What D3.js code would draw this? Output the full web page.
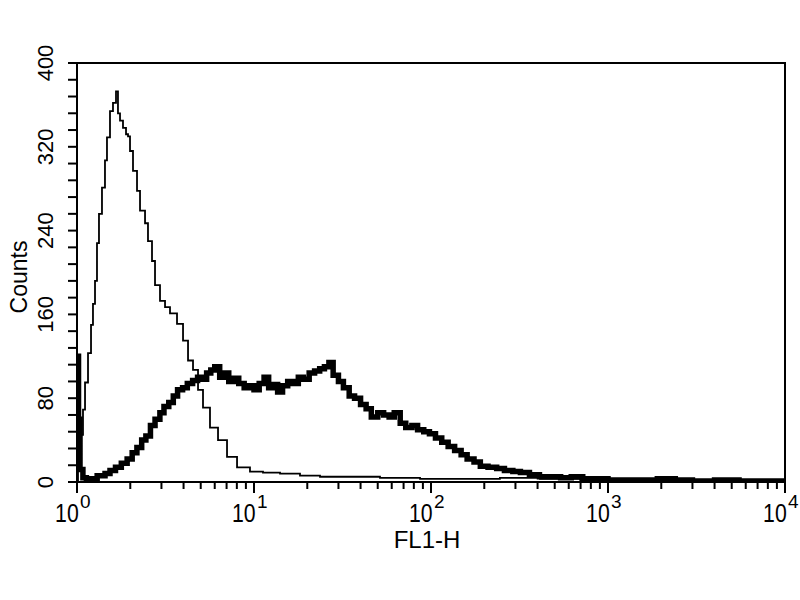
<!DOCTYPE html>
<html lang="en">
<head>
    <meta charset="UTF-8">
    <title>FL1-H histogram</title>
    <script src="https://d3js.org/d3.v7.min.js"></script>
    <style>
        body { margin: 0; background: #fff; }
        text { font-family: "Liberation Sans", Arial, sans-serif; fill: #000; }
    </style>
</head>
<body>
    <div id="chart"></div>

    <script>
        // control (thin line): FL1-H channel value and counts
        const controlFl1 = [1.0, 1.013, 1.04, 1.081, 1.11, 1.154, 1.2, 1.231, 1.264, 1.297, 1.331, 1.384, 1.439, 1.477,
            1.536, 1.597, 1.661, 1.704, 1.75, 1.819, 1.892, 1.942, 1.993, 2.072, 2.183, 2.27, 2.423, 2.518, 2.653,
            2.759, 2.944, 3.143, 3.353, 3.673, 3.972, 4.239, 4.523, 4.828, 5.151, 5.641, 6.262, 7.04, 8.02, 9.49,
            11.24, 14.03, 18.19, 23.6, 34.9, 51.5, 86.7, 146, 245, 413, 695, 1169, 3310, 10000];
        const controlCounts = [0, 20, 45, 69, 95, 123, 150, 170, 192, 228, 256, 281, 307, 329,
            354, 362, 373, 352, 345, 338, 332, 330, 316, 297, 278, 259, 247, 230, 211,
            188, 173, 167, 161, 151, 135, 116, 107, 88, 71, 52, 40, 24, 14, 10,
            9, 8, 6, 5, 5, 4, 3, 3, 4, 3, 2, 1, 0, 0];

        // stained sample (thick line)
        const sampleFl1 = [1.0, 1.02, 1.04, 1.08, 1.13, 1.2, 1.3, 1.384, 1.44, 1.536, 1.65, 1.78, 1.92, 2.05, 2.18,
            2.32, 2.45, 2.6, 2.76, 2.94, 3.1, 3.3, 3.5, 3.7, 3.95, 4.2, 4.5, 4.8, 5.1, 5.4, 5.7, 6.0, 6.4, 6.8,
            7.2, 7.7, 8.2, 8.8, 9.4, 10.0, 10.7, 11.4, 12.1, 12.8, 13.6, 14.5, 15.5, 16.6, 17.8, 19.0, 20.5,
            22.0, 23.5, 25.0, 26.5, 28.0, 30.0, 32.0, 34.5, 37.0, 40.0, 43.0, 46.0, 50.0, 54.0, 58.0, 62.0,
            67.0, 72.0, 78.0, 84.0, 91.0, 98.0, 106, 115, 125, 136, 148, 160, 175, 190, 210, 235, 260, 290,
            320, 360, 410, 470, 540, 620, 720, 850, 1000, 1200, 1500, 1900, 2400, 3000, 4000, 5500, 7500, 10000];
        const sampleCounts = [120, 60, 12, 4, 2, 3, 6, 6, 8, 11, 14, 18, 22, 28, 33,
            40, 44, 54, 60, 66, 72, 76, 82, 88, 90, 94, 97, 100, 98, 104, 107, 110, 100, 104,
            96, 99, 94, 90, 92, 88, 94, 100, 90, 93, 86, 92, 96, 94, 100, 98, 104,
            106, 108, 110, 114, 102, 96, 90, 82, 80, 74, 70, 62, 66, 64, 62, 66,
            56, 52, 54, 50, 48, 46, 42, 38, 34, 30, 26, 22, 19, 15, 14, 13, 11, 10,
            9, 7, 5, 5, 4, 5, 3, 3, 2, 2, 2, 3, 2, 1, 2, 1, 1, 1];

        const yMajor = [0, 80, 160, 240, 320, 400];
        const decades = [0, 1, 2, 3, 4];

        const width = 800, height = 600;
        const mLeft = 77, mRight = 785, mTop = 63, mBottom = 482;

        const svg = d3.select('#chart').append('svg')
            .attr('width', width)
            .attr('height', height);

        const x = d3.scaleLog().domain([1, 10000]).range([mLeft, mRight]);
        const y = d3.scaleLinear().domain([0, 400]).range([mBottom, mTop]);

        svg.append('clipPath').attr('id', 'plot')
            .append('rect')
            .attr('x', mLeft).attr('y', mTop - 5)
            .attr('width', mRight - mLeft).attr('height', mBottom - mTop + 5);

        // y ticks every 16 counts, labels on multiples of 80
        svg.append('g').selectAll('line')
            .data(d3.range(0, 401, 16))
            .join('line')
            .attr('x1', mLeft - 9).attr('x2', mLeft)
            .attr('y1', d => y(d)).attr('y2', d => y(d))
            .attr('stroke', '#000').attr('stroke-width', 2);

        svg.append('g').selectAll('text')
            .data(yMajor)
            .join('text')
            .attr('transform', d => `translate(53,${y(d)}) rotate(-90)`)
            .attr('text-anchor', 'middle')
            .attr('font-size', 22)
            .text(d => d);

        // x ticks: decades plus 2..9 minor
        const xTicks = [];
        decades.forEach(d => {
            for (let k = 1; k <= 9; k++) {
                if (d === 4 && k > 1) break;
                xTicks.push({ v: k * Math.pow(10, d), major: k === 1 });
            }
        });

        svg.append('g').selectAll('line')
            .data(xTicks)
            .join('line')
            .attr('x1', d => x(d.v)).attr('x2', d => x(d.v))
            .attr('y1', mBottom).attr('y2', d => mBottom + (d.major ? 11 : 7))
            .attr('stroke', '#000').attr('stroke-width', 2);

        svg.append('g').selectAll('text')
            .data(decades)
            .join('text')
            .attr('x', d => x(Math.pow(10, d)) + 2)
            .attr('y', 522)
            .attr('text-anchor', 'end')
            .attr('font-size', 25)
            .attr('transform', d => `translate(${x(Math.pow(10, d)) * 0.15},0) scale(0.85,1)`)
            .text('10');

        svg.append('g').selectAll('text')
            .data(decades)
            .join('text')
            .attr('x', d => x(Math.pow(10, d)) + 3)
            .attr('y', 508)
            .attr('font-size', 19)
            .text(d => d);

        // axis titles
        svg.append('text')
            .attr('x', 427).attr('y', 548)
            .attr('text-anchor', 'middle')
            .attr('font-size', 24)
            .text('FL1-H');

        svg.append('text')
            .attr('transform', 'translate(27,277) rotate(-90)')
            .attr('text-anchor', 'middle')
            .attr('font-size', 23)
            .text('Counts');

        // histograms
        const line = d3.line()
            .x(d => x(d[0]))
            .y(d => y(d[1]))
            .curve(d3.curveStepAfter);

        const plot = svg.append('g').attr('clip-path', 'url(#plot)');

        plot.append('path')
            .datum(d3.zip(sampleFl1, sampleCounts))
            .attr('d', line)
            .attr('fill', 'none')
            .attr('stroke', '#000')
            .attr('stroke-width', 5.5);

        plot.append('path')
            .datum(d3.zip(controlFl1, controlCounts))
            .attr('d', line)
            .attr('fill', 'none')
            .attr('stroke', '#000')
            .attr('stroke-width', 1.8);

        // frame
        svg.append('rect')
            .attr('x', mLeft).attr('y', mTop)
            .attr('width', mRight - mLeft).attr('height', mBottom - mTop)
            .attr('fill', 'none')
            .attr('stroke', '#000')
            .attr('stroke-width', 2);
    </script>
</body>
</html>
